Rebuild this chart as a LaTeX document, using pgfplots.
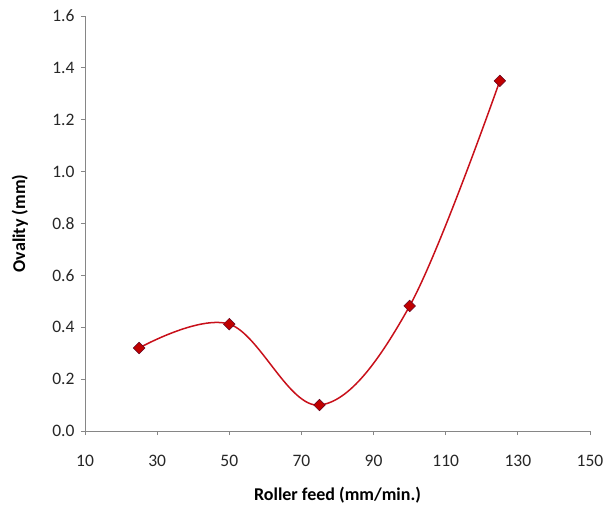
\documentclass[border=0pt]{standalone}
\usepackage{fontspec}
\setmainfont{Carlito}
\usepackage{pgfplots}
\pgfplotsset{compat=1.18}
\definecolor{ser}{RGB}{192,0,0}
\definecolor{lin}{RGB}{200,16,26}
\definecolor{ax}{RGB}{134,134,134}
\begin{document}
\begin{tikzpicture}
\path[use as bounding box] (-85bp,-75bp) rectangle (520bp,431bp);
\begin{axis}[
  scale only axis,
  width=505bp, height=415bp,
  at={(0,0)}, anchor=south west,
  xmin=10, xmax=150, ymin=0, ymax=1.6,
  xtick={10,30,...,150},
  ytick={0,0.2,...,1.6},
  axis x line*=bottom, axis y line*=left,
  axis line style={ax, line width=0.8bp, -},
  tick style={ax, line width=0.8bp},
  tick align=outside,
  major tick length=4bp,
  tick label style={font=\fontsize{17.5bp}{20bp}\selectfont},
  label style={font=\fontsize{18bp}{21bp}\selectfont\bfseries},
  /pgf/number format/assume math mode=true,
  yticklabel style={/pgf/number format/fixed, /pgf/number format/fixed zerofill, /pgf/number format/precision=1, xshift=-3bp, text=black!85},
  xticklabel style={yshift=-17bp, text=black!85},
  xlabel={Roller feed (mm/min.)},
  ylabel={Ovality (mm)},
  xlabel style={at={(axis description cs:0.5,-0.154)}, anchor=center},
  ylabel style={at={(axis description cs:-0.129,0.5)}, anchor=center},
  clip=false,
]
\addplot[lin, line width=1.5bp, smooth, tension=0.6,
  mark=square*, mark size=4.1bp,
  mark options={rotate=45, fill=ser, draw=ser!80!blue!60!black, line width=0.5bp}]
  coordinates {(25,0.32) (50,0.412) (75,0.10) (100,0.482) (125,1.35)};
\end{axis}
\end{tikzpicture}
\end{document}
